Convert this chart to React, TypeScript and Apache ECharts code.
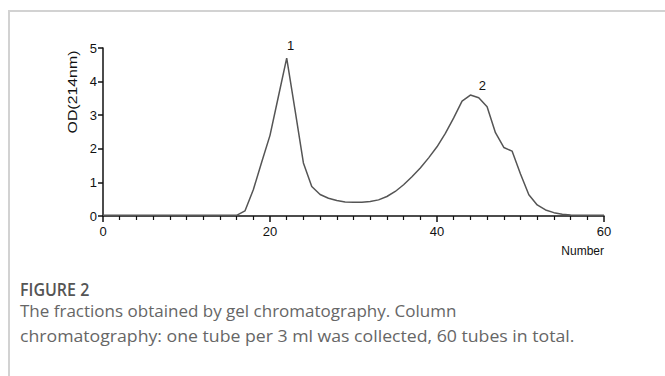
import React, { useEffect, useRef } from "react";
import * as echarts from "echarts";

const tubes: number[] = Array.from({ length: 61 }, (_, i) => i);
const od: number[] = [
  0.02, 0.02, 0.02, 0.02, 0.02, 0.02, 0.02, 0.02, 0.02, 0.02,
  0.02, 0.02, 0.02, 0.02, 0.02, 0.02, 0.02, 0.15, 0.78, 1.6,
  2.4, 3.55, 4.7, 3.15, 1.58, 0.88, 0.64, 0.53, 0.46, 0.42,
  0.41, 0.41, 0.43, 0.48, 0.58, 0.73, 0.93, 1.17, 1.43, 1.73,
  2.06, 2.46, 2.92, 3.42, 3.6, 3.52, 3.25, 2.48, 2.04, 1.93,
  1.25, 0.63, 0.33, 0.18, 0.1, 0.05, 0.03, 0.02, 0.02, 0.02,
  0.02,
];
const peakIndex: number[] = [22, 44];
const peakNames: string[] = ["1", "2"];
const yAxisName = "OD(214nm)";
const xAxisName = "Number";
const captionTitle = "FIGURE 2";
const captionLines: string[] = [
  "The fractions obtained by gel chromatography. Column",
  "chromatography: one tube per 3 ml was collected, 60 tubes in total.",
];

export default function App() {
  const ref = useRef<HTMLDivElement>(null);
  useEffect(() => {
    if (!ref.current) return;
    const chart = echarts.init(ref.current, null, { renderer: "svg" });
    const font = "'Liberation Sans', Arial, sans-serif";
    const data = tubes.map((t, i) => [t, od[i]]);
    const peaks = peakIndex.map((idx, k) => ({
      name: peakNames[k],
      coord: [tubes[idx], od[idx]],
      label: { offset: k === 0 ? [4, 0] : [12, 3] },
    }));
    chart.setOption({
      animation: false,
      backgroundColor: "#fff",
      grid: { left: 103, right: 61, top: 48, bottom: 160 },
      xAxis: {
        type: "value",
        min: 0,
        max: 60,
        interval: 20,
        name: xAxisName,
        nameLocation: "end",
        nameGap: 0,
        nameTextStyle: {
          color: "#111",
          fontSize: 12,
          fontFamily: font,
          align: "right",
          verticalAlign: "top",
          padding: [29, 0, 0, 0],
        },
        axisLine: { show: true, lineStyle: { color: "#111", width: 1.5 } },
        axisTick: { show: true, length: 6, lineStyle: { color: "#111", width: 1.5 } },
        minorTick: { show: true, splitNumber: 10, length: 4, lineStyle: { color: "#111", width: 1.2 } },
        axisLabel: { color: "#111", fontSize: 13, fontFamily: font, margin: 9 },
        splitLine: { show: false },
      },
      yAxis: {
        type: "value",
        min: 0,
        max: 5,
        interval: 1,
        axisLine: { show: true, lineStyle: { color: "#111", width: 1.5 } },
        axisTick: { show: true, length: 5, lineStyle: { color: "#111", width: 1.5 } },
        axisLabel: { color: "#111", fontSize: 13, fontFamily: font, margin: 6 },
        splitLine: { show: false },
      },
      series: [
        {
          type: "line",
          data,
          showSymbol: false,
          symbol: "none",
          lineStyle: { color: "#555", width: 1.5 },
          z: 1,
          markPoint: {
            symbol: "circle",
            symbolSize: 0,
            label: {
              show: true,
              formatter: "{b}",
              position: "top",
              color: "#111",
              fontSize: 13,
              fontFamily: font,
              distance: 6,
            },
            data: peaks,
          },
        },
      ],
      graphic: [
        {
          type: "line",
          shape: { x1: 9, y1: 11, x2: 665, y2: 11 },
          style: { stroke: "#d2d2d2", lineWidth: 2 },
        },
        {
          type: "line",
          shape: { x1: 9, y1: 10, x2: 9, y2: 376 },
          style: { stroke: "#d2d2d2", lineWidth: 2 },
        },
        {
          type: "text",
          x: 73,
          y: 92,
          rotation: Math.PI / 2,
          scaleX: 1.22,
          style: {
            text: yAxisName,
            fill: "#111",
            fontSize: 13,
            fontFamily: font,
            align: "center",
            verticalAlign: "middle",
          },
        },
        {
          type: "text",
          left: 20,
          top: 280,
          scaleY: 1.12,
          style: {
            text: captionTitle,
            fill: "#555",
            fontSize: 16,
            fontWeight: 600,
            fontFamily: "'Open Sans', sans-serif",
          },
        },
        {
          type: "text",
          left: 20,
          top: 302,
          style: {
            text: captionLines[0],
            fill: "#666",
            fontSize: 17,
            fontFamily: "'Open Sans', sans-serif",
          },
        },
        {
          type: "text",
          left: 20,
          top: 327,
          scaleX: 1.04,
          style: {
            text: captionLines[1],
            fill: "#666",
            fontSize: 17,
            fontFamily: "'Open Sans', sans-serif",
          },
        },
      ],
    });
    return () => chart.dispose();
  }, []);
  return (
    <div
      ref={ref}
      style={{ position: "fixed", left: 0, top: 0, width: 665, height: 376 }}
    />
  );
}
